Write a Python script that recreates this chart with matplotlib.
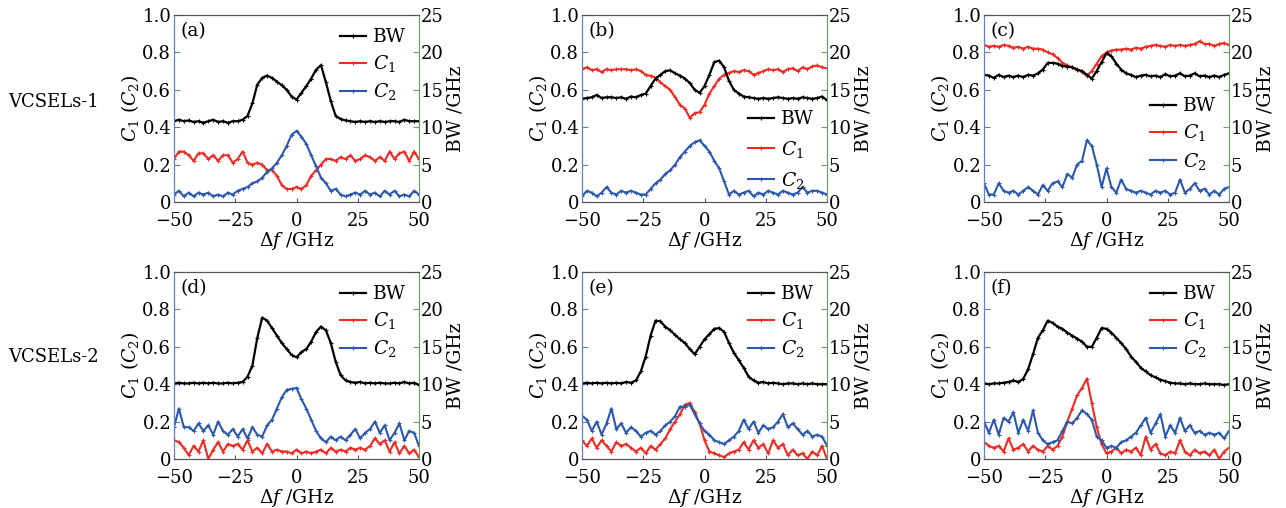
import numpy as np
import matplotlib
matplotlib.use('Agg')
import matplotlib.pyplot as plt

plt.rcParams['font.family'] = ['DejaVu Serif']
plt.rcParams['mathtext.fontset'] = 'dejavuserif'
plt.rcParams['font.size'] = 13

# detuning axis (GHz)
df = np.arange(-50, 51, 2)

# panel (a) VCSELs-1
bw_a = [10.8, 11.0, 10.8, 10.9, 10.7, 10.8, 10.6, 10.8, 11.0, 10.7, 10.8, 10.6, 10.8, 10.8, 11.0, 11.5, 13.2,
        15.7, 16.6, 16.9, 16.6, 16.1, 15.6, 15.0, 14.1, 13.7, 14.6, 15.5, 16.5, 17.7, 18.3, 16.0, 13.5, 11.5,
        11.1, 10.9, 10.8, 10.7, 10.8, 10.7, 10.8, 10.7, 10.8, 10.7, 10.8, 10.8, 10.7, 11.0, 10.8, 10.8, 10.8]
c1_a = [0.23, 0.27, 0.27, 0.25, 0.22, 0.26, 0.26, 0.23, 0.25, 0.22, 0.25, 0.25, 0.21, 0.23, 0.27, 0.21, 0.20,
        0.21, 0.20, 0.17, 0.17, 0.14, 0.09, 0.07, 0.07, 0.08, 0.07, 0.09, 0.14, 0.17, 0.20, 0.23, 0.23, 0.22,
        0.24, 0.23, 0.25, 0.22, 0.23, 0.25, 0.24, 0.22, 0.24, 0.22, 0.27, 0.23, 0.26, 0.27, 0.22, 0.27, 0.23]
c2_a = [0.04, 0.06, 0.03, 0.05, 0.03, 0.05, 0.04, 0.05, 0.03, 0.04, 0.03, 0.05, 0.04, 0.06, 0.07, 0.08, 0.10,
        0.11, 0.13, 0.16, 0.18, 0.21, 0.25, 0.30, 0.36, 0.38, 0.35, 0.31, 0.25, 0.19, 0.13, 0.10, 0.06, 0.07,
        0.04, 0.03, 0.04, 0.05, 0.04, 0.06, 0.04, 0.05, 0.03, 0.06, 0.04, 0.06, 0.03, 0.04, 0.03, 0.06, 0.04]

# panel (b)
bw_b = [13.8, 13.9, 14.0, 14.3, 13.9, 14.0, 14.0, 13.9, 14.0, 13.8, 14.1, 14.0, 14.3, 14.5, 15.5, 16.5, 17.0,
        17.5, 17.6, 17.2, 16.9, 16.5, 15.9, 15.0, 14.6, 15.5, 17.0, 18.7, 18.9, 18.0, 16.2, 15.0, 14.5, 14.1,
        14.0, 13.9, 13.8, 13.9, 13.8, 13.9, 14.0, 13.9, 13.8, 13.9, 13.8, 14.0, 13.9, 13.8, 13.9, 14.1, 13.6]
c1_b = [0.71, 0.72, 0.705, 0.71, 0.695, 0.71, 0.705, 0.71, 0.71, 0.71, 0.705, 0.71, 0.70, 0.68, 0.675, 0.665,
        0.64, 0.62, 0.60, 0.56, 0.52, 0.50, 0.45, 0.475, 0.48, 0.52, 0.58, 0.62, 0.66, 0.68, 0.69, 0.70, 0.695,
        0.705, 0.70, 0.68, 0.69, 0.70, 0.71, 0.705, 0.71, 0.695, 0.71, 0.715, 0.70, 0.72, 0.71, 0.725, 0.73,
        0.72, 0.715]
c2_b = [0.03, 0.06, 0.05, 0.03, 0.05, 0.08, 0.05, 0.04, 0.06, 0.05, 0.06, 0.05, 0.04, 0.04, 0.07, 0.10, 0.12,
        0.15, 0.17, 0.20, 0.24, 0.27, 0.30, 0.32, 0.33, 0.30, 0.27, 0.22, 0.18, 0.11, 0.04, 0.06, 0.04, 0.05,
        0.06, 0.03, 0.05, 0.04, 0.06, 0.05, 0.04, 0.06, 0.05, 0.04, 0.05, 0.08, 0.05, 0.06, 0.06, 0.05, 0.04]

# panel (c)
bw_c = [17.0, 16.9, 16.6, 17.0, 16.7, 16.9, 16.7, 16.9, 16.7, 17.0, 16.9, 17.2, 17.7, 18.6, 18.6, 18.5, 18.2,
        18.1, 18.0, 17.7, 17.5, 17.0, 16.5, 17.5, 18.7, 19.9, 19.5, 18.5, 17.7, 17.2, 17.0, 16.7, 16.9, 17.0,
        16.8, 16.9, 16.7, 17.1, 16.8, 16.9, 17.2, 16.8, 16.9, 17.2, 16.8, 16.9, 16.7, 16.9, 16.7, 17.0, 17.2]
c1_c = [0.84, 0.83, 0.835, 0.83, 0.84, 0.835, 0.825, 0.83, 0.82, 0.83, 0.82, 0.82, 0.815, 0.80, 0.79, 0.77,
        0.745, 0.73, 0.72, 0.71, 0.695, 0.675, 0.70, 0.74, 0.78, 0.80, 0.81, 0.815, 0.815, 0.82, 0.815, 0.825,
        0.82, 0.83, 0.835, 0.84, 0.835, 0.83, 0.84, 0.835, 0.84, 0.835, 0.84, 0.845, 0.86, 0.845, 0.845, 0.835,
        0.845, 0.85, 0.84]
c2_c = [0.10, 0.04, 0.04, 0.10, 0.06, 0.05, 0.06, 0.04, 0.06, 0.08, 0.06, 0.04, 0.09, 0.06, 0.10, 0.11, 0.08,
        0.15, 0.13, 0.20, 0.22, 0.33, 0.30, 0.20, 0.08, 0.18, 0.08, 0.05, 0.12, 0.07, 0.06, 0.05, 0.06, 0.05,
        0.04, 0.06, 0.05, 0.06, 0.04, 0.05, 0.12, 0.05, 0.07, 0.10, 0.06, 0.07, 0.04, 0.06, 0.04, 0.07, 0.08]

# panel (d) VCSELs-2
bw_d = [10.1, 10.2, 10.1, 10.1, 10.2, 10.1, 10.2, 10.1, 10.2, 10.1, 10.1, 10.2, 10.1, 10.2, 10.3, 11.0, 12.5,
        16.2, 18.9, 18.5, 17.5, 16.5, 15.5, 14.7, 13.9, 13.6, 14.3, 14.7, 15.7, 17.0, 17.7, 17.2, 15.5, 13.0,
        11.2, 10.5, 10.3, 10.2, 10.3, 10.1, 10.2, 10.1, 10.2, 10.1, 10.1, 10.2, 10.1, 10.3, 10.1, 10.2, 9.9]
c1_d = [0.10, 0.09, 0.06, 0.02, 0.07, 0.04, 0.10, 0.00, 0.05, 0.09, 0.04, 0.08, 0.07, 0.08, 0.05, 0.10, 0.04,
        0.06, 0.03, 0.08, 0.04, 0.05, 0.04, 0.04, 0.03, 0.05, 0.03, 0.04, 0.03, 0.04, 0.05, 0.03, 0.06, 0.04,
        0.05, 0.04, 0.06, 0.05, 0.06, 0.05, 0.07, 0.11, 0.08, 0.10, 0.04, 0.09, 0.03, 0.07, 0.03, 0.05, 0.01]
c2_d = [0.17, 0.27, 0.17, 0.17, 0.15, 0.19, 0.15, 0.18, 0.13, 0.20, 0.15, 0.13, 0.16, 0.12, 0.16, 0.11, 0.17,
        0.13, 0.12, 0.18, 0.21, 0.27, 0.33, 0.37, 0.375, 0.38, 0.32, 0.27, 0.21, 0.15, 0.11, 0.09, 0.12, 0.10,
        0.12, 0.10, 0.13, 0.16, 0.11, 0.14, 0.16, 0.20, 0.14, 0.18, 0.10, 0.14, 0.19, 0.10, 0.15, 0.14, 0.07]

# panel (e)
bw_e = [10.1, 10.2, 10.1, 10.2, 10.1, 10.2, 10.1, 10.2, 10.1, 10.3, 10.2, 10.5, 11.7, 13.7, 16.5, 18.5, 18.4,
        17.7, 17.2, 16.6, 16.0, 15.5, 14.7, 14.0, 15.0, 16.0, 16.7, 17.4, 17.5, 17.0, 15.5, 14.2, 13.2, 12.2,
        11.0, 10.5, 10.2, 10.3, 10.1, 10.2, 10.1, 10.0, 10.1, 10.1, 10.0, 10.1, 10.0, 10.1, 10.0, 10.0, 10.0]
c1_e = [0.10, 0.07, 0.11, 0.06, 0.10, 0.07, 0.04, 0.09, 0.07, 0.08, 0.06, 0.04, 0.06, 0.03, 0.07, 0.05, 0.08,
        0.11, 0.16, 0.20, 0.24, 0.29, 0.30, 0.25, 0.19, 0.10, 0.04, 0.03, 0.02, 0.01, 0.03, 0.04, 0.05, 0.09,
        0.05, 0.10, 0.06, 0.08, 0.03, 0.10, 0.06, 0.08, 0.02, 0.05, 0.02, 0.03, 0.00, 0.04, 0.02, 0.07, 0.00]
c2_e = [0.23, 0.21, 0.15, 0.20, 0.13, 0.19, 0.27, 0.16, 0.19, 0.14, 0.17, 0.15, 0.12, 0.14, 0.15, 0.13, 0.15,
        0.18, 0.20, 0.23, 0.28, 0.28, 0.29, 0.24, 0.19, 0.15, 0.13, 0.10, 0.09, 0.08, 0.10, 0.12, 0.15, 0.21,
        0.16, 0.20, 0.14, 0.18, 0.16, 0.17, 0.20, 0.24, 0.17, 0.19, 0.16, 0.13, 0.15, 0.12, 0.13, 0.12, 0.07]

# panel (f)
bw_f = [10.1, 10.0, 10.1, 10.1, 10.2, 10.3, 10.5, 10.3, 10.7, 12.0, 14.0, 16.2, 17.2, 18.5, 18.2, 17.7, 17.4,
        16.9, 16.5, 16.1, 15.7, 15.0, 15.0, 16.2, 17.5, 17.4, 16.9, 16.2, 15.5, 14.7, 13.7, 13.0, 12.2, 11.7,
        11.2, 10.9, 10.6, 10.4, 10.2, 10.1, 10.1, 10.0, 10.1, 10.0, 10.0, 10.1, 10.0, 10.0, 10.0, 9.9, 10.0]
c1_f = [0.09, 0.07, 0.06, 0.07, 0.04, 0.11, 0.05, 0.06, 0.08, 0.04, 0.07, 0.05, 0.04, 0.07, 0.05, 0.07, 0.12,
        0.20, 0.27, 0.34, 0.38, 0.43, 0.30, 0.17, 0.08, 0.03, 0.04, 0.06, 0.03, 0.05, 0.04, 0.06, 0.02, 0.12,
        0.05, 0.08, 0.03, 0.02, 0.04, 0.03, 0.10, 0.04, 0.02, 0.05, 0.03, 0.04, 0.02, 0.05, 0.00, 0.04, 0.06]
c2_f = [0.20, 0.14, 0.21, 0.13, 0.22, 0.20, 0.25, 0.14, 0.21, 0.15, 0.26, 0.14, 0.10, 0.08, 0.09, 0.10, 0.15,
        0.20, 0.19, 0.22, 0.26, 0.24, 0.21, 0.12, 0.10, 0.06, 0.07, 0.06, 0.09, 0.10, 0.12, 0.14, 0.18, 0.22,
        0.14, 0.19, 0.24, 0.12, 0.18, 0.14, 0.22, 0.15, 0.18, 0.14, 0.15, 0.13, 0.14, 0.13, 0.14, 0.11, 0.15]

panel_tags = ['(a)', '(b)', '(c)', '(d)', '(e)', '(f)']
bw_all = [bw_a, bw_b, bw_c, bw_d, bw_e, bw_f]
c1_all = [c1_a, c1_b, c1_c, c1_d, c1_e, c1_f]
c2_all = [c2_a, c2_b, c2_c, c2_d, c2_e, c2_f]
row_labels = ['VCSELs-1', 'VCSELs-2']

# legend anchor (axes fraction, upper right corner) and row spacing per panel
leg_anchor = [(1.0, 1.0), (1.0, 0.56), (1.0, 0.63), (1.0, 1.0), (1.0, 1.0), (1.0, 1.0)]
leg_space = [0.38, 0.55, 0.38, 0.38, 0.38, 0.38]

lefts = [174, 582, 984]
tops = [15, 272]
w, h = 245, 187
W, H = 1286, 508

blue_spine = '#5b7fd2'
green_spine = '#6e9e68'
red = '#f02a22'
blue = '#2a58b0'

fig = plt.figure(figsize=(W / 100, H / 100), dpi=100)

for k in range(6):
    r, c = divmod(k, 3)
    ax = fig.add_axes([lefts[c] / W, 1 - (tops[r] + h) / H, w / W, h / H])
    ax2 = ax.twinx()
    l1, = ax.plot(df, c1_all[k], '-', color=red, lw=1.5, marker='+', ms=3.5, mew=0.8)
    l2, = ax.plot(df, c2_all[k], '-', color=blue, lw=1.5, marker='+', ms=3.5, mew=0.8)
    l0, = ax2.plot(df, bw_all[k], '-', color='black', lw=1.6, marker='+', ms=3.5, mew=0.8)

    ax.set_xlim(-50, 50)
    ax.set_ylim(0, 1)
    ax2.set_ylim(0, 25)
    ax.set_xticks([-50, -25, 0, 25, 50])
    ax.set_yticks([0, 0.2, 0.4, 0.6, 0.8, 1.0])
    ax.set_yticklabels(['0', '0.2', '0.4', '0.6', '0.8', '1.0'])
    ax2.set_yticks([0, 5, 10, 15, 20, 25])
    ax.tick_params(axis='x', direction='in', length=3, color='#555555', pad=7)
    ax.tick_params(axis='y', direction='in', length=4, color=blue_spine, pad=2)
    ax2.tick_params(axis='y', direction='in', length=4, color=green_spine, pad=1)
    for a in (ax, ax2):
        a.spines['top'].set_color('#555555')
        a.spines['bottom'].set_color('#555555')
        a.spines['left'].set_color(blue_spine)
        a.spines['right'].set_color(green_spine)

    ax.set_xlabel(r'$\Delta f$ /GHz', labelpad=0, fontsize=13.5)
    ax.set_ylabel(r'$C_1$ ($C_2$)', labelpad=1, fontsize=13.5)
    ax2.set_ylabel('BW /GHz', labelpad=2, fontsize=13.5)
    ax.text(0.025, 0.915, panel_tags[k], transform=ax.transAxes, ha='left', va='center', fontsize=13.5)

    ax2.legend([l0, l1, l2], ['BW', r'$C_1$', r'$C_2$'], loc='upper right',
               bbox_to_anchor=leg_anchor[k], frameon=False, handlelength=1.4, fontsize=13.5,
               handletextpad=0.35, labelspacing=leg_space[k], borderaxespad=0.3)

fig.text(8 / W, 1 - 102 / H, row_labels[0], ha='left', va='center', fontsize=13)
fig.text(8 / W, 1 - 357 / H, row_labels[1], ha='left', va='center', fontsize=13)

fig.savefig('out.png', dpi=100)
